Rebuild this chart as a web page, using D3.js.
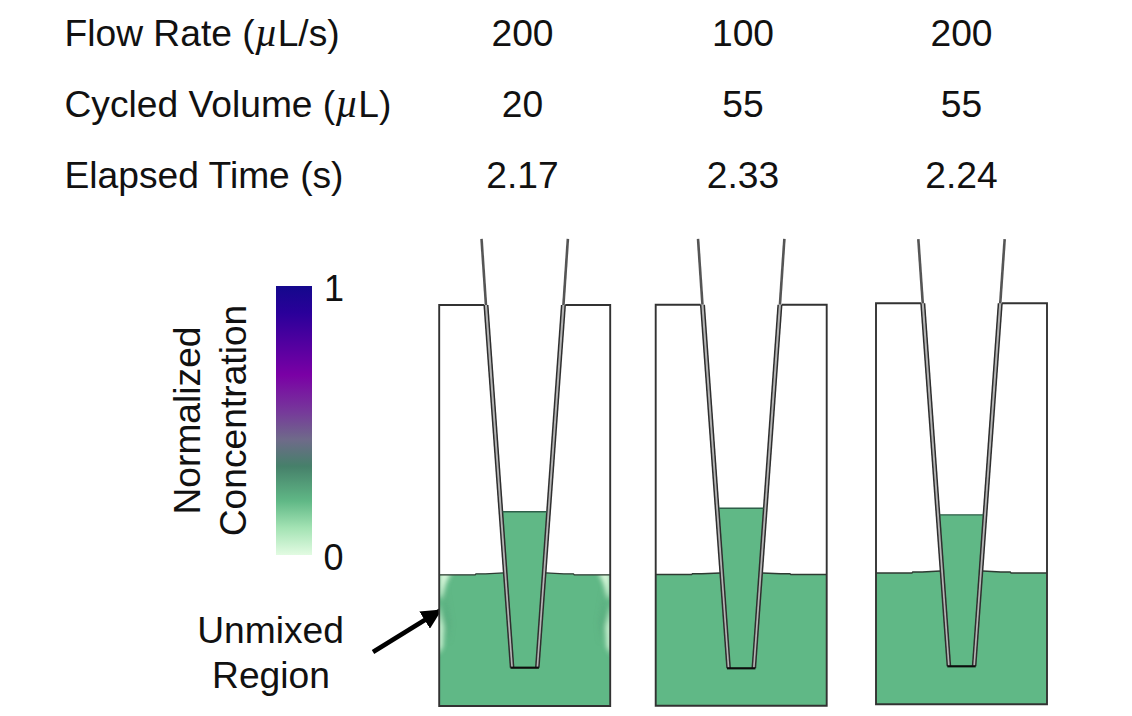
<!DOCTYPE html>
<html><head><meta charset="utf-8">
<script src="https://cdn.jsdelivr.net/npm/d3@7"></script>
<style>html,body{margin:0;padding:0;background:#fff}svg{display:block}text{font-family:"Liberation Sans",Arial,sans-serif;fill:#111}</style>
</head><body><svg id="c" width="1132" height="716"></svg>
<script>
// ---- data ----
const rowLabels = ["Flow Rate (|µ|L/s)", "Cycled Volume (|µ|L)", "Elapsed Time (s)"];
const flowRates = ["200", "100", "200"];
const cycledVolumes = ["20", "55", "55"];
const elapsedTimes = ["2.17", "2.33", "2.24"];
const bathLevels = [0.327, 0.327, 0.3275];      // fraction of well height
const meniscusRise = [0.005, 0.004, 0.005];
const tipLiquidLevels = [0.4845, 0.4925, 0.4725];
const tipBottomLevels = [0.0955, 0.0933, 0.0948];
const tipTopLevels = [1.165, 1.164, 1.160];
const liquidConcentration = [0.2, 0.2, 0.2];
const colorbarTicks = [0, 1];
const colorStops = [0, 0.1, 0.2, 0.33, 0.43, 0.53, 0.67, 0.9, 1];
const colorValues = ["#e2fbe2","#a4e3b4","#60b886","#46806a","#6f6a8a","#763a9a","#7a00a5","#2a009a","#14088c"];

// ---- layout ----
const svg = d3.select("#c");
const FS = 37.2;
const colormap = d3.scaleLinear().domain(colorStops).range(colorValues);
const rowY = d3.scalePoint().domain(d3.range(3)).range([45.5, 188]);
const colX = d3.scaleOrdinal().domain(d3.range(3)).range([522.5, 743, 961.5]);
const wellCx = [524.7, 741.2, 961.5], wellBottom = [706, 705.7, 704.3];
const wellHalf = 85.5, wellHeight = 401;

// header table
rowLabels.forEach((s, i) => {
  const t = svg.append("text").attr("x", 64.5).attr("y", rowY(i)).attr("font-size", FS);
  s.split("|").forEach((p, k) => {
    const ts = t.append("tspan").text(p);
    if (k === 1) ts.style("font-family", '"Liberation Serif",serif').style("font-style", "italic").attr("font-size", 40);
  });
});
[flowRates, cycledVolumes, elapsedTimes].forEach((row, i) => {
  svg.selectAll(null).data(row).enter().append("text")
    .attr("x", (d, j) => colX(j)).attr("y", rowY(i))
    .attr("text-anchor", "middle").attr("font-size", FS).text(d => d);
});

// colorbar
const defs = svg.append("defs");
const grad = defs.append("linearGradient").attr("id", "cbar").attr("x1", 0).attr("x2", 0).attr("y1", 1).attr("y2", 0);
grad.selectAll("stop").data(colorStops).enter().append("stop")
  .attr("offset", d => d).attr("stop-color", d => colormap(d));
const cbY = d3.scaleLinear().domain([0, 1]).range([555, 286]);
svg.append("rect").attr("x", 276).attr("width", 36).attr("y", cbY(1)).attr("height", cbY(0) - cbY(1)).attr("fill", "url(#cbar)");
svg.selectAll(null).data(colorbarTicks).enter().append("text")
  .attr("x", d => d ? 324 : 323.5).attr("y", d => d ? 301 : 569.5).attr("font-size", 36).text(d => d);
[["Normalized", 199.5], ["Concentration", 245.5]].forEach(([s, x]) => {
  svg.append("text").attr("transform", `translate(${x},420.5) rotate(-90)`)
    .attr("text-anchor", "middle").attr("font-size", FS).text(s);
});

// annotation
[["Unmixed", 643], ["Region", 687.5]].forEach(([s, y], i) => {
  svg.append("text").attr("x", i ? 271 : 270.5).attr("y", y).attr("text-anchor", "middle").attr("font-size", FS).text(s);
});
defs.append("marker").attr("id", "ah").attr("viewBox", "0 0 10 10").attr("refX", 9.5).attr("refY", 5)
  .attr("markerWidth", 4.4).attr("markerHeight", 4.4).attr("markerUnits", "strokeWidth").attr("orient", "auto")
  .append("path").attr("d", "M0,0L10,5L0,10Z").attr("fill", "#000");
svg.append("line").attr("x1", 373).attr("y1", 652).attr("x2", 441).attr("y2", 610)
  .attr("stroke", "#000").attr("stroke-width", 4.6).attr("marker-end", "url(#ah)");

// blur filters
const f = defs.append("filter").attr("id", "blur").attr("x", "-60%").attr("y", "-60%").attr("width", "220%").attr("height", "220%");
f.append("feGaussianBlur").attr("stdDeviation", 2.4);
const soft = defs.append("filter").attr("id", "soft");
soft.append("feGaussianBlur").attr("stdDeviation", 0.4);

// wells
const line = d3.line();
d3.range(3).forEach(i => {
  const X = d3.scaleLinear().domain([-1, 1]).range([wellCx[i] - wellHalf, wellCx[i] + wellHalf]);
  const Y = d3.scaleLinear().domain([0, 1]).range([wellBottom[i], wellBottom[i] - wellHeight]);
  const g = svg.append("g").attr("filter", "url(#soft)");
  const fill = colormap(liquidConcentration[i]);
  const L = bathLevels[i], R = meniscusRise[i], B = tipBottomLevels[i], T = tipTopLevels[i], Q = tipLiquidLevels[i];
  // half-width of tip walls vs. level
  const outer = d3.scaleLinear().domain([B, 1]).range([0.166, 0.474]);
  const inner = d3.scaleLinear().domain([B, 1]).range([0.129, 0.432]);
  const poly = pts => line(pts.map(p => [X(p[0]), Y(p[1])]));

  const surf = [[-1, L], [-0.58, L], [-0.57, L + R * 0.5], [-0.46, L + R * 0.5], [-outer(L + R), L + R]];
  const surfR = surf.map(p => [-p[0], p[1]]).reverse();
  // bath liquid
  g.append("path").attr("d", poly([[-1, 0], ...surf, ...surfR, [1, 0]]) + "Z").attr("fill", fill);

  // light unmixed patches
  const cid = "clip" + i;
  defs.append("clipPath").attr("id", cid).append("rect").attr("x", X(-1)).attr("width", X(1) - X(-1)).attr("y", Y(L)).attr("height", Y(0) - Y(L));
  if (i === 0) {
    const pg = g.append("g").attr("clip-path", `url(#${cid})`).append("g").attr("filter", "url(#blur)");
    const light = colormap(0.02);
    [-1, 1].forEach(sd => {
      pg.append("path").attr("d", poly([[sd, L + 0.01], [sd * 0.85, L + 0.01], [sd * 0.92, L - 0.02], [sd * 0.97, L - 0.055], [sd, L - 0.06]]) + "Z").attr("fill", light);
      pg.append("path").attr("d", poly([[sd * 1.02, L - 0.07], [sd * 0.95, L - 0.13], [sd * 0.96, L - 0.18], [sd * 1.02, L - 0.2]]) + "Z").attr("fill", light);
      pg.append("path").attr("d", poly([[sd * 0.93, L - 0.03], [sd * 0.86, L - 0.12], [sd * 0.89, L - 0.17], [sd * 0.95, L - 0.1]]) + "Z").attr("fill", colormap(0.24)).attr("opacity", 0.5);
    });
  }

  // tip interior liquid
  g.append("path").attr("d", poly([[-inner(Q), Q], [-inner(B), B], [inner(B), B], [inner(Q), Q]]) + "Z").attr("fill", fill);

  // walls
  [-1, 1].forEach(sd => {
    g.append("path").attr("d", poly([[sd * outer(1), 1], [sd * outer(B), B], [sd * inner(B), B], [sd * inner(1), 1]]) + "Z")
      .attr("fill", "#b4b4b4").attr("stroke", "none");
    g.append("path").attr("d", poly([[sd * outer(1), 1], [sd * outer(B), B]])).attr("fill", "none").attr("stroke", "#2e2e2e").attr("stroke-width", 1.5);
    g.append("path").attr("d", poly([[sd * inner(1), 1], [sd * inner(B), B]])).attr("fill", "none").attr("stroke", "#2e2e2e").attr("stroke-width", 1.5);
    g.append("path").attr("d", poly([[sd * (outer(1) + inner(1)) / 2, 1], [sd * 0.505, T]])).attr("fill", "none").attr("stroke", "#555").attr("stroke-width", 2.6);
  });
  // tip mouth and liquid top
  g.append("path").attr("d", poly([[-outer(B), B], [outer(B), B]])).attr("stroke", "#111").attr("stroke-width", 2.2).attr("fill", "none");
  g.append("path").attr("d", poly([[-inner(Q), Q], [inner(Q), Q]])).attr("stroke", "#2f5f48").attr("stroke-width", 1.4).attr("fill", "none");

  // surface line
  g.append("path").attr("d", poly(surf)).attr("stroke", "#2e3a33").attr("stroke-width", 1.4).attr("fill", "none");
  g.append("path").attr("d", poly(surfR)).attr("stroke", "#2e3a33").attr("stroke-width", 1.4).attr("fill", "none");
  // well outline
  g.append("path").attr("d", poly([[-outer(1), 1], [-1, 1], [-1, 0], [1, 0], [1, 1], [outer(1), 1]]))
    .attr("stroke", "#333").attr("stroke-width", 1.9).attr("fill", "none");
});
</script></body></html>
